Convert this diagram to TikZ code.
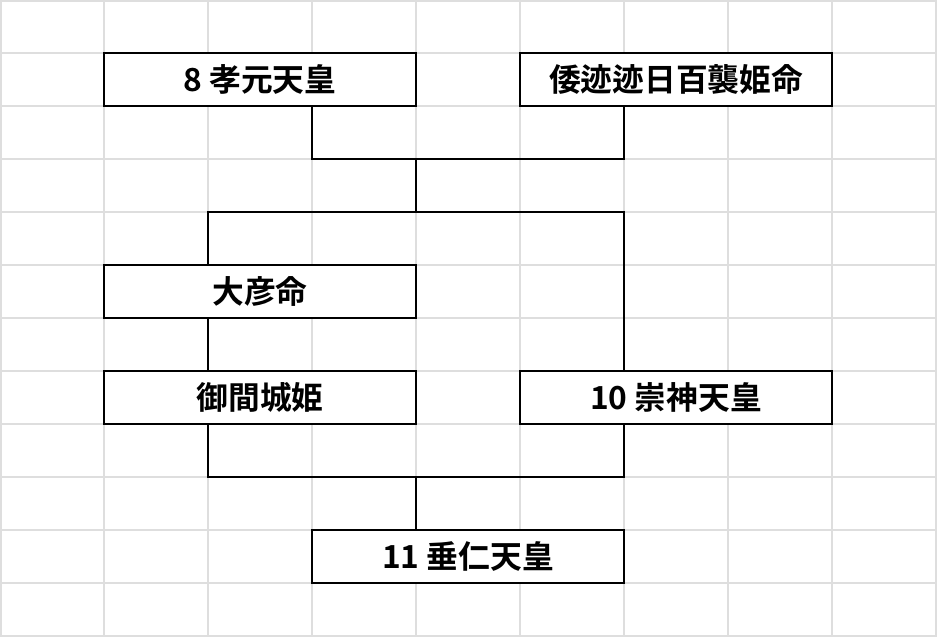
\documentclass[tikz,border=0pt]{standalone}
\usepackage{fontspec}
\newfontfamily\jpfont{Noto Sans CJK JP}[BoldFont={Noto Sans CJK JP Bold}]
\usetikzlibrary{calc}

\tikzset{
  person/.style={draw=black, line width=0.8pt, fill=white, minimum width=234pt,
    minimum height=39.75pt, inner sep=0pt, font=\jpfont\bfseries\fontsize{23.8}{24}\selectfont},
  link/.style={draw=black, line width=0.8pt},
  cell/.style={draw=black!13, line width=0.8pt}
}

\begin{document}
\begin{tikzpicture}[x=0.75pt, y=-0.75pt]
  % page and sheet grid
  \fill[white] (0,0) rectangle (937,637);
  \useasboundingbox (0,0) rectangle (937,637);
  \foreach \gx in {1,104,208,312,416,520,624,728,832,936}
    \draw[cell] (\gx,0) -- (\gx,637);
  \foreach \gy in {1,53,106,159,212,265,318,371,424,477,530,583,636}
    \draw[cell] (0,\gy) -- (937,\gy);

  % Row 1 - parents
  \node[person] (kogen) at (260,79.5) {8 孝元天皇};
  \node[person] (yamato) at (676,79.5) {倭迹迹日百襲姫命};

  % Row 2 and 3
  \node[person] (ohiko) at (260,291.5) {大彦命};
  \node[person] (mimaki) at (260,397.5) {御間城姫};
  \node[person] (sujin) at (676,397.5) {10 崇神天皇};

  % Row 4 - child
  \node[person] (suinin) at (468,556.5) {11 垂仁天皇};

  % joints
  \coordinate (top) at (416,159);
  \coordinate (kids) at (416,212);
  \coordinate (bottom) at (416,477);

  % connectors
  \draw[link] ([xshift=39pt]kogen.south) |- (top) -| ([xshift=-39pt]yamato.south);
  \draw[link] (top) -- (kids);
  \draw[link] ([xshift=-39pt]ohiko.north) |- (kids) -| ([xshift=-39pt]sujin.north);
  \draw[link] ([xshift=-39pt]ohiko.south) -- ([xshift=-39pt]mimaki.north);
  \draw[link] ([xshift=-39pt]mimaki.south) |- (bottom) -| ([xshift=-39pt]sujin.south);
  \draw[link] (bottom) -- ([xshift=-39pt]suinin.north);
\end{tikzpicture}
\end{document}
